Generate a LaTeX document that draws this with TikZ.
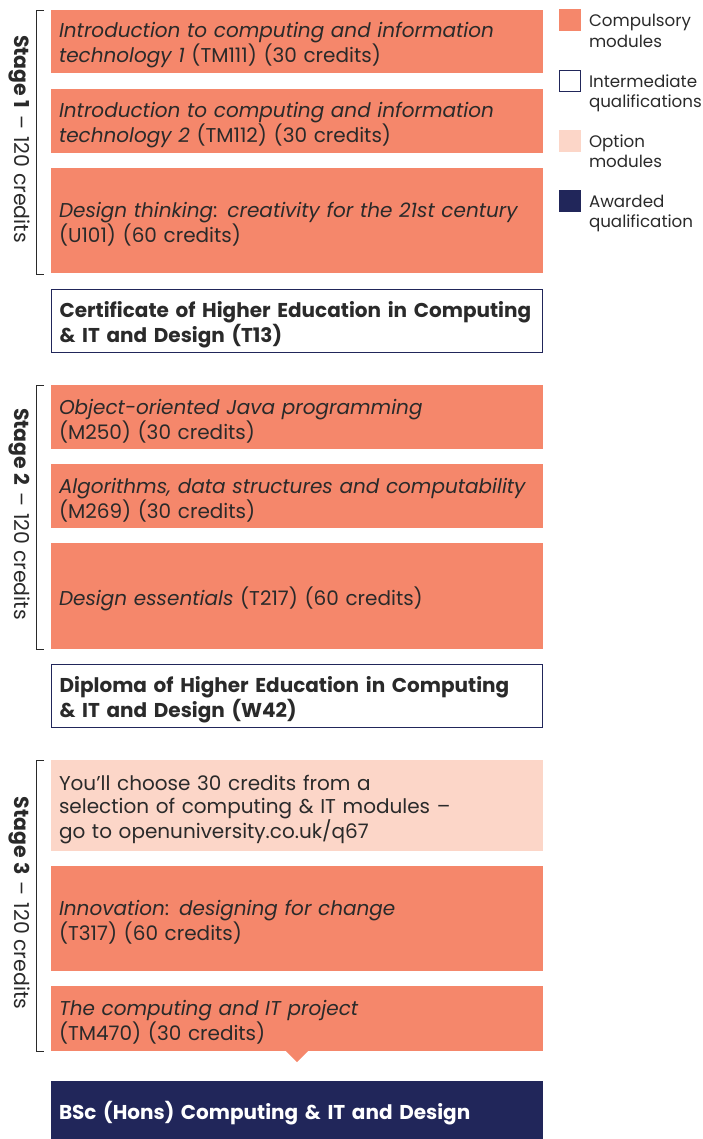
\documentclass[tikz,border=0pt]{standalone}
\usepackage{fontspec}
\setmainfont{Poppins}
\definecolor{comp}{HTML}{F5876B}
\definecolor{opt}{HTML}{FCD6C8}
\definecolor{navy}{HTML}{21265A}
\definecolor{ink}{HTML}{2A2A2A}
\newcommand{\lowertext}{\endgraf\vspace*{-8pt}}
\begin{document}
\begin{tikzpicture}[x=1pt,y=-1pt,
  every node/.style={inner sep=0pt, outer sep=0pt},
  modbox/.style={anchor=north west, fill=comp, minimum width=492pt, text width=476pt, inner xsep=8pt, align=left, text=ink, font=\fontsize{20}{23.5}\selectfont, execute at end node=\lowertext},
  optbox/.style={modbox, fill=opt},
  qualbox/.style={modbox, fill=white, draw=navy, line width=1.2pt, font=\fontsize{20}{23.5}\selectfont\bfseries},
  awardbox/.style={modbox, fill=navy, text=white, font=\fontsize{20}{23.5}\selectfont\bfseries},
  bracket/.style={draw=ink, line width=0.9pt},
  stagelbl/.style={rotate=-90, text=ink, font=\fontsize{20.5}{24}\selectfont},
  legsq/.style={anchor=north west, minimum width=22pt, minimum height=22pt},
  legtxt/.style={anchor=base west, align=left, text=ink, font=\fontsize{16.7}{20.5}\selectfont}
]
\useasboundingbox (0,0) rectangle (702,1139);

% Stage 1
\node[modbox, minimum height=63pt] (m1) at (51,10) {\textit{Introduction to computing and information}\\\textit{technology 1} (TM111) (30 credits)};
\node[modbox, minimum height=64pt] (m2) at (51,89) {\textit{Introduction to computing and information}\\\textit{technology 2} (TM112) (30 credits)};
\node[modbox, minimum height=105pt] (m3) at (51,168) {\textit{Design thinking}: \textit{creativity for the 21st century}\\(U101) (60 credits)};
\node[qualbox, minimum height=63pt, minimum width=491pt, text width=475pt] (q1) at (51.6,289.6) {Certificate of Higher Education in Computing\\\& IT and Design (T13)};

% Stage 2
\node[modbox, minimum height=64pt] (m4) at (51,385) {\textit{Object-oriented Java programming}\\(M250) (30 credits)};
\node[modbox, minimum height=64pt] (m5) at (51,464) {\textit{Algorithms, data structures and computability}\\(M269) (30 credits)};
\node[modbox, minimum height=106pt] (m6) at (51,543) {\textit{Design essentials} (T217) (60 credits)};
\node[qualbox, minimum height=63pt, minimum width=491pt, text width=475pt] (q2) at (51.6,664.6) {Diploma of Higher Education in Computing\\\& IT and Design (W42)};

% Stage 3
\node[optbox, minimum height=91pt] (o1) at (51,760) {You’ll choose 30 credits from a\\selection of computing \& IT modules –\\go to openuniversity.co.uk/q67};
\node[modbox, minimum height=105pt] (m7) at (51,866) {\textit{Innovation}: \textit{designing for change}\\(T317) (60 credits)};
\node[modbox, minimum height=65pt] (m8) at (51,986) {\textit{The computing and IT project}\\(TM470) (30 credits)};
\coordinate (tl) at (286,1051);
\coordinate (tr) at (308,1051);
\coordinate (tt) at (297,1062);
\fill[comp] (tl) -- (tt) -- (tr) -- cycle;
\node[awardbox, minimum height=58pt] (aw) at (51,1081) {BSc (Hons) Computing \& IT and Design};

% Brackets
\coordinate (b1a) at (44,10);  \coordinate (b1b) at (36,10);
\coordinate (b1c) at (36,274); \coordinate (b1d) at (44,274);
\draw[bracket] (b1a) -- (b1b) -- (b1c) -- (b1d);
\coordinate (b2a) at (44,385); \coordinate (b2b) at (36,385);
\coordinate (b2c) at (36,649); \coordinate (b2d) at (44,649);
\draw[bracket] (b2a) -- (b2b) -- (b2c) -- (b2d);
\coordinate (b3a) at (44,760); \coordinate (b3b) at (36,760);
\coordinate (b3c) at (36,1051); \coordinate (b3d) at (44,1051);
\draw[bracket] (b3a) -- (b3b) -- (b3c) -- (b3d);

\node[stagelbl] (s1) at (19,139) {\textbf{Stage 1}\hspace{7pt}–\hspace{7pt}120 credits};
\node[stagelbl] (s2) at (19,514) {\textbf{Stage 2}\hspace{7pt}–\hspace{7pt}120 credits};
\node[stagelbl] (s3) at (19,903) {\textbf{Stage 3}\hspace{7pt}–\hspace{7pt}120 credits};

% Legend
\node[legsq, fill=comp] (l1) at (559,9) {};
\node[legtxt] (t1) at (589,47.5) {Compulsory\\modules};
\node[legsq, fill=white, draw=navy, line width=1pt, minimum width=21pt, minimum height=21pt] (l2) at (559.5,70.5) {};
\node[legtxt] (t2) at (589,108) {Intermediate\\qualifications};
\node[legsq, fill=opt] (l3) at (559,130) {};
\node[legtxt] (t3) at (589,168) {Option\\modules};
\node[legsq, fill=navy] (l4) at (559,190) {};
\node[legtxt] (t4) at (589,228) {Awarded\\qualification};
\end{tikzpicture}
\end{document}
